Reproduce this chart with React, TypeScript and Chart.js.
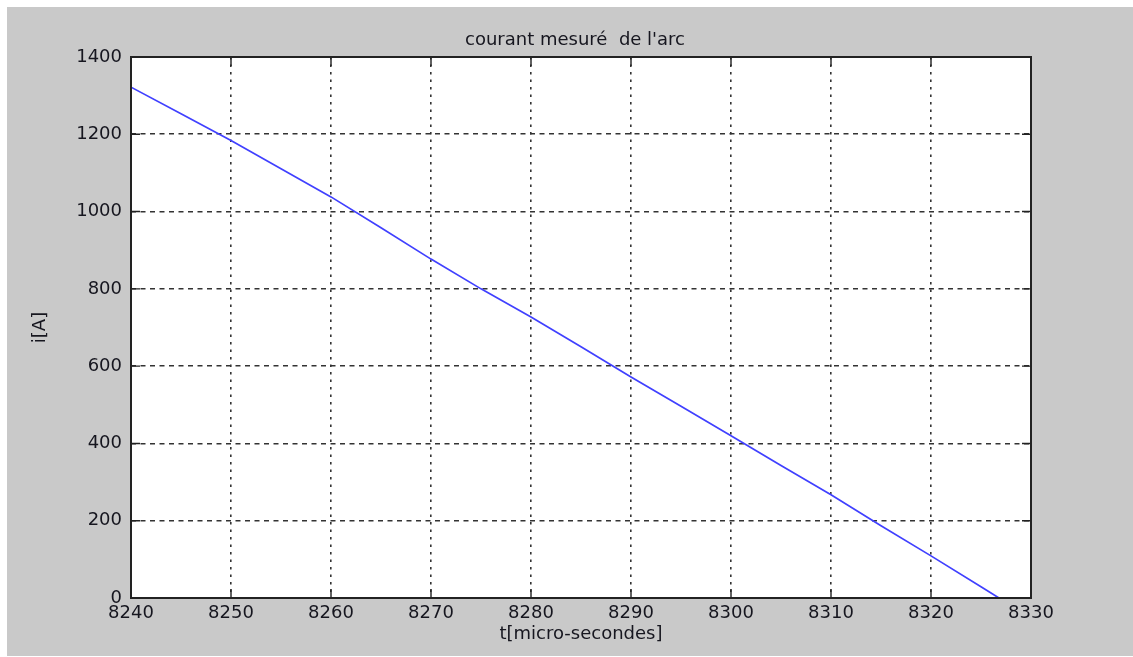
import React, { useEffect, useRef } from "react";
import { Chart, registerables } from "chart.js";

Chart.register(...registerables);

const titleText = "courant mesuré  de l'arc";
const xLabel = "t[micro-secondes]";
const yLabel = "i[A]";

// time in micro-seconds
const times = [8240, 8245, 8250, 8255, 8260, 8265, 8270, 8275, 8280, 8285, 8290, 8295, 8300, 8305, 8310, 8315, 8320, 8325, 8326.8];
// measured arc current in A
const current = [1322, 1253, 1184, 1111, 1038, 958, 877, 800, 727, 650, 572, 496, 420, 343, 267, 187, 109, 29, 0];

const xMin = 8240;
const xMax = 8330;
const xStep = 10;
const yMin = 0;
const yMax = 1400;
const yStep = 200;

const FONT = "'DejaVu Sans', 'Liberation Sans', Arial, sans-serif";
const TEXT = "#16161f";
const GRID = "#333333";
const FRAME = "#222222";

const plotBgPlugin = {
  id: "plotBg",
  beforeDraw(chart: any) {
    const { ctx, chartArea } = chart;
    ctx.save();
    ctx.fillStyle = "#ffffff";
    ctx.fillRect(chartArea.left, chartArea.top, chartArea.right - chartArea.left, chartArea.bottom - chartArea.top);
    ctx.restore();
  },
};

const framePlugin = {
  id: "frame",
  afterDatasetsDraw(chart: any) {
    const { ctx, chartArea } = chart;
    const xs = chart.scales.x;
    const ys = chart.scales.y;
    const len = 9;
    ctx.save();
    ctx.strokeStyle = FRAME;
    ctx.lineWidth = 1.4;
    ctx.setLineDash([]);
    ctx.beginPath();
    xs.ticks.forEach((t: any) => {
      const px = xs.getPixelForValue(t.value);
      ctx.moveTo(px, chartArea.bottom);
      ctx.lineTo(px, chartArea.bottom - len);
      ctx.moveTo(px, chartArea.top);
      ctx.lineTo(px, chartArea.top + len);
    });
    ys.ticks.forEach((t: any) => {
      const py = ys.getPixelForValue(t.value);
      ctx.moveTo(chartArea.left, py);
      ctx.lineTo(chartArea.left + len, py);
      ctx.moveTo(chartArea.right, py);
      ctx.lineTo(chartArea.right - len, py);
    });
    ctx.stroke();
    ctx.lineWidth = 2;
    ctx.strokeRect(chartArea.left, chartArea.top, chartArea.right - chartArea.left, chartArea.bottom - chartArea.top);
    ctx.restore();
  },
};

const titlePlugin = {
  id: "plotTitle",
  afterDraw(chart: any) {
    const { ctx, chartArea } = chart;
    ctx.save();
    ctx.fillStyle = TEXT;
    ctx.font = `18px ${FONT}`;
    ctx.textAlign = "center";
    ctx.textBaseline = "middle";
    ctx.fillText(titleText, (chartArea.left + chartArea.right) / 2 - 6, chartArea.top - 17);
    ctx.restore();
  },
};

export default function App() {
  const ref = useRef<HTMLCanvasElement | null>(null);

  useEffect(() => {
    document.body.style.margin = "0";
    document.body.style.background = "#ffffff";
    if (!ref.current) return;
    const chart = new Chart(ref.current, {
      type: "line",
      data: {
        datasets: [
          {
            data: times.map((t, i) => ({ x: t, y: current[i] })),
            borderColor: "#4040ff",
            borderWidth: 1.7,
            pointRadius: 0,
            tension: 0,
            fill: false,
          },
        ],
      },
      options: {
        animation: false,
        responsive: false,
        maintainAspectRatio: false,
        layout: { padding: { top: 50, right: 102, bottom: 0, left: 0 } },
        plugins: {
          legend: { display: false },
          tooltip: { enabled: false },
          title: { display: false },
        },
        scales: {
          x: {
            type: "linear",
            min: xMin,
            max: xMax,
            afterFit(scale: any) {
              scale.height = 58;
            },
            ticks: {
              stepSize: xStep,
              color: TEXT,
              font: { family: FONT, size: 18 },
              padding: 5,
              maxRotation: 0,
              callback: (v: any) => String(v),
            },
            grid: {
              color: GRID,
              lineWidth: 1.6,
              drawTicks: false,
            },
            border: { display: false, dash: [2.5, 5] },
            title: {
              display: true,
              text: xLabel,
              color: TEXT,
              font: { family: FONT, size: 18 },
              padding: { top: 0, bottom: 11 },
            },
          },
          y: {
            type: "linear",
            min: yMin,
            max: yMax,
            afterFit(scale: any) {
              scale.width = 124;
            },
            ticks: {
              stepSize: yStep,
              color: TEXT,
              font: { family: FONT, size: 18 },
              padding: 9,
              callback: (v: any) => String(v),
            },
            grid: {
              color: GRID,
              lineWidth: 1.6,
              drawTicks: false,
            },
            border: { display: false, dash: [5, 4.5] },
            title: {
              display: true,
              text: yLabel,
              color: TEXT,
              font: { family: FONT, size: 18 },
              padding: { top: 23, bottom: 0 },
            },
          },
        },
      },
      plugins: [plotBgPlugin, framePlugin, titlePlugin],
    } as any);
    return () => chart.destroy();
  }, []);

  return (
    <div style={{ margin: "7px 0 0 7px", width: 1126, height: 649, background: "#c9c9c9" }}>
      <canvas ref={ref} width={1126} height={649} style={{ display: "block", width: 1126, height: 649 }} />
    </div>
  );
}
